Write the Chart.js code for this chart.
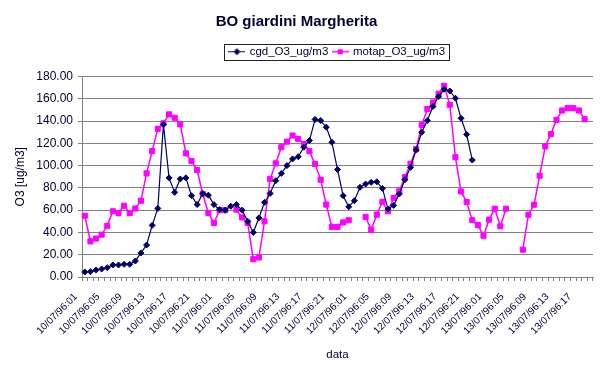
<!DOCTYPE html>
<html>
<head>
<meta charset="utf-8">
<script src="https://cdn.jsdelivr.net/npm/chart.js@4/dist/chart.umd.min.js"></script>
<style>
  body { margin: 0; background: #fff; }
  #wrap { width: 600px; height: 372px; position: relative; }
</style>
</head>
<body>
<div id="wrap"><canvas id="myChart"></canvas></div>
<script>
// hourly readings, 10/07/96:01 .. 13/07/96:19 (hours run 01..24)
const days = ['10', '11', '12', '13'];
const hourCount = 91;

const cgdValues = [
  4.5, 4.8, 6.3, 7.2, 8.4, 10.8, 10.8, 11.4, 11.4, 14.4,
  21.6, 28.7, 46.4, 61.6, 137, 89, 76, 88, 89, 73,
  65, 75, 73.5, 65, 60.5, 60, 63.5, 65, 60, 50,
  40, 53, 67, 75, 86.5, 93, 100, 106, 108, 116.5,
  122.5, 141.5, 140.5, 134.5, 121, 96.5, 73, 63, 68.5, 80.5,
  83.5, 85, 85.5, 79.5, 61, 64.3, 74.5, 87.3, 98.4, 114,
  130, 140.5, 153, 162, 168.5, 167, 160.5, 142.5, 128, 105
];

const motapValues = [
  55, 32, 34.5, 38, 46, 59, 57.5, 64, 57.5, 61.5,
  68.5, 93, 113, 133, 138, 146, 143, 137, 111, 104,
  96, 74.5, 57.5, 48.5, 60, 60, null, 60.5, 53.5, 48.5,
  16, 17.5, 50, 88, 102, 116.5, 121.5, 127, 124, 119.5,
  113, 101.5, 87.3, 65, 45, 45, 49, 51, null, null,
  54, 42.5, 56, 67.5, 59, 71, 77, 89.7, 101.7, 114.8,
  136.6, 150.7, 156.7, 164.5, 171.6, 154.6, 107.6, 76.8, 67.3, 51,
  46.6, 37, 51.5, 61.3, 45.5, 61.3, null, null, 24.5, 55.9,
  64.9, 90.9, 117.2, 128.3, 141.1, 149.5, 151.6, 151.6, 149.5, 141.7
];

const yTicks = { min: 0, max: 180, step: 20 };

const categories = [];
for (let i = 0; i < hourCount; i++) {
  const d = days[Math.floor(i / 24)];
  const h = String(i % 24 + 1).padStart(2, '0');
  categories.push(d + '/07/96:' + h);
}

const navy = '#000066';
const textColor = '#000033';
const gridColor = '#808080';
const fontFamily = '"Liberation Sans", Arial, sans-serif';

// small line+marker pictures for the legend, Excel style
function legendMarker(color, lineWidth, shape) {
  const c = document.createElement('canvas');
  c.width = 17; c.height = 9;
  const g = c.getContext('2d');
  g.strokeStyle = color; g.fillStyle = color; g.lineWidth = lineWidth;
  g.beginPath(); g.moveTo(0, 4.5); g.lineTo(17, 4.5); g.stroke();
  g.beginPath();
  if (shape === 'diamond') {
    g.moveTo(8.5, 1); g.lineTo(12, 4.5); g.lineTo(8.5, 8); g.lineTo(5, 4.5);
  } else {
    g.rect(6, 2, 5, 5);
  }
  g.closePath(); g.fill();
  return c;
}
const markers = [legendMarker(navy, 1, 'diamond'), legendMarker('#ff00ff', 1.5, 'square')];

const legendBox = {
  id: 'legendBox',
  beforeLayout(chart) {
    if (chart.legend && !chart.legend._padded) {
      const fit = chart.legend.fit;
      chart.legend.fit = function () { fit.call(this); this.height += 9; };
      chart.legend._padded = true;
    }
  },
  afterDraw(chart) {
    const boxes = chart.legend && chart.legend.legendHitBoxes;
    if (!boxes || !boxes.length) return;
    const left = boxes[0].left - 6;
    const last = boxes[boxes.length - 1];
    const right = last.left + last.width + 4;
    const top = boxes[0].top - 2;
    const bottom = boxes[0].top + boxes[0].height + 2;
    const ctx = chart.ctx;
    ctx.save();
    ctx.strokeStyle = '#222';
    ctx.lineWidth = 1;
    ctx.strokeRect(Math.round(left) + 0.5, Math.round(top) + 0.5, Math.round(right - left), Math.round(bottom - top));
    ctx.restore();
  }
};

const ctx = document.getElementById('myChart').getContext('2d');

new Chart(ctx, {
  type: 'line',
  data: {
    labels: categories,
    datasets: [{
      label: 'cgd_O3_ug/m3',
      data: cgdValues,
      borderColor: navy,
      backgroundColor: navy,
      borderWidth: 1.2,
      pointStyle: 'rectRot',
      pointRadius: 3,
      pointBorderWidth: 1,
      tension: 0
    }, {
      label: 'motap_O3_ug/m3',
      data: motapValues,
      borderColor: '#ff00ff',
      backgroundColor: '#ff00ff',
      borderWidth: 1.5,
      pointStyle: 'rect',
      pointRadius: 3.6,
      pointBorderWidth: 1,
      tension: 0
    }]
  },
  options: {
    responsive: true,
    maintainAspectRatio: false,
    animation: false,
    layout: { padding: { top: 0, right: 7, bottom: 0, left: 0 } },
    plugins: {
      title: {
        display: true,
        text: 'BO giardini Margherita',
        color: textColor,
        font: { family: fontFamily, size: 15, weight: 'bold' },
        padding: { top: 13, bottom: 10 }
      },
      legend: {
        display: true,
        fullSize: false,
        labels: {
          color: textColor,
          font: { family: fontFamily, size: 11.5 },
          usePointStyle: true,
          pointStyleWidth: 14,
          padding: 5,
          generateLabels: (chart) => chart.data.datasets.map((ds, i) => ({
            text: ds.label,
            fontColor: textColor,
            pointStyle: markers[i],
            datasetIndex: i,
            hidden: false,
            lineWidth: 0
          }))
        }
      },
      tooltip: { enabled: false }
    },
    scales: {
      x: {
        type: 'category',
        offset: true,
        afterFit: (scale) => {
          scale.height = 95;
          scale.paddingRight = 0;
        },
        grid: {
          offset: true,
          drawOnChartArea: false,
          drawTicks: true,
          tickLength: 4,
          color: gridColor
        },
        border: { color: gridColor },
        ticks: {
          autoSkip: false,
          minRotation: 45,
          maxRotation: 45,
          padding: 10,
          labelOffset: -9,
          color: textColor,
          font: { family: fontFamily, size: 10 },
          callback: function (val, i) { return i % 4 === 0 ? this.getLabelForValue(val) : ''; }
        },
        title: {
          display: true,
          text: 'data',
          color: textColor,
          font: { family: fontFamily, size: 11.5 },
          padding: { top: 0, bottom: 10 }
        }
      },
      y: {
        min: yTicks.min,
        max: yTicks.max,
        afterFit: (scale) => { scale.width = 82; },
        grid: { color: gridColor, tickLength: 4 },
        border: { color: gridColor },
        ticks: {
          stepSize: yTicks.step,
          padding: 5,
          color: textColor,
          font: { family: fontFamily, size: 12 },
          callback: (v) => v.toFixed(2)
        },
        title: {
          display: true,
          text: 'O3 [ug/m3]',
          color: textColor,
          font: { family: fontFamily, size: 12 },
          padding: { top: 13, bottom: 0 }
        }
      }
    }
  },
  plugins: [legendBox]
});
</script>
</body>
</html>
